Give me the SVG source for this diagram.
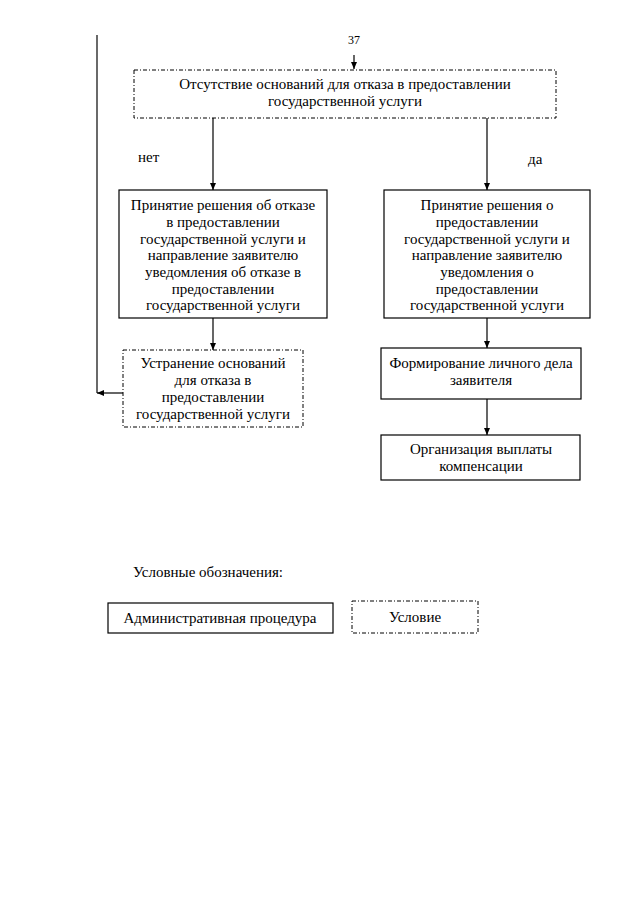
<svg xmlns="http://www.w3.org/2000/svg" width="640" height="905" viewBox="0 0 640 905">
<defs>
<marker id="ah" markerWidth="8" markerHeight="8" refX="7" refY="4" orient="auto" markerUnits="userSpaceOnUse">
<path d="M0,1 L7,4 L0,7 Z" fill="#000"/>
</marker>
<style>
text{font-family:"Liberation Serif","Times New Roman","DejaVu Serif",serif;font-size:15px;fill:#000}
.t{text-anchor:middle}
.proc{fill:#fff;stroke:#000;stroke-width:1.2}
.cond{fill:#fff;stroke:#000;stroke-width:1;stroke-dasharray:4,2,1,2}
.c{fill:none;stroke:#000;stroke-width:1.2}
</style>
</defs>
<rect width="640" height="905" fill="#fff"/>
<text class="t" x="354" y="44" font-family="Liberation Serif, serif" style="font-size:12px">37</text>
<g id="connectors">
<line x1="97" y1="35" x2="97" y2="393" stroke="#444" stroke-width="1.6"/>
<line class="c" x1="354" y1="55" x2="354" y2="69" marker-end="url(#ah)"/>
<line class="c" x1="213" y1="118" x2="213" y2="190" marker-end="url(#ah)"/>
<line class="c" x1="487" y1="118" x2="487" y2="190" marker-end="url(#ah)"/>
<line class="c" x1="213" y1="318" x2="213" y2="350" marker-end="url(#ah)"/>
<line class="c" x1="123" y1="393" x2="97" y2="393" marker-end="url(#ah)"/>
<line class="c" x1="487" y1="318" x2="487" y2="348" marker-end="url(#ah)"/>
<line class="c" x1="487" y1="399" x2="487" y2="435" marker-end="url(#ah)"/>
<text x="138" y="162" font-family="Liberation Serif, serif">нет</text>
<text x="528" y="164" font-family="Liberation Serif, serif">да</text>
</g>
<g id="n_absence" font-family="Liberation Serif, serif">
<rect class="cond" x="134" y="70" width="422" height="48"/>
<text class="t" x="345" y="89">Отсутствие оснований для отказа в предоставлении</text>
<text class="t" x="345" y="106">государственной услуги</text>
</g>
<g id="n_refuse">
<rect class="proc" x="119" y="190" width="208" height="128"/>
<text class="t" x="223" y="210">Принятие решения об отказе</text>
<text class="t" x="223" y="227">в предоставлении</text>
<text class="t" x="223" y="244">государственной услуги и</text>
<text class="t" x="223" y="260">направление заявителю</text>
<text class="t" x="223" y="277">уведомления об отказе в</text>
<text class="t" x="223" y="294">предоставлении</text>
<text class="t" x="223" y="310">государственной услуги</text>
</g>
<g id="n_grant">
<rect class="proc" x="384" y="190" width="206" height="128"/>
<text class="t" x="487" y="210">Принятие решения о</text>
<text class="t" x="487" y="227">предоставлении</text>
<text class="t" x="487" y="244">государственной услуги и</text>
<text class="t" x="487" y="260">направление заявителю</text>
<text class="t" x="487" y="277">уведомления о</text>
<text class="t" x="487" y="294">предоставлении</text>
<text class="t" x="487" y="310">государственной услуги</text>
</g>
<g id="n_fix">
<rect class="cond" x="123" y="350" width="180" height="77"/>
<text class="t" x="213" y="368">Устранение оснований</text>
<text class="t" x="213" y="385">для отказа в</text>
<text class="t" x="213" y="402">предоставлении</text>
<text class="t" x="213" y="419">государственной услуги</text>
</g>
<g id="n_file">
<rect class="proc" x="381" y="348" width="200" height="51"/>
<text class="t" x="481" y="368">Формирование личного дела</text>
<text class="t" x="481" y="385">заявителя</text>
</g>
<g id="n_pay">
<rect class="proc" x="381" y="435" width="199" height="45"/>
<text class="t" x="481" y="454">Организация выплаты</text>
<text class="t" x="481" y="471">компенсации</text>
</g>
<text x="133" y="577">Условные обозначения:</text>
<g id="legend_proc">
<rect class="proc" x="108" y="603" width="225" height="30"/>
<text class="t" x="220" y="623">Административная процедура</text>
</g>
<g id="legend_cond">
<rect class="cond" x="352" y="601" width="126" height="32"/>
<text class="t" x="415" y="622">Условие</text>
</g>
</svg>
